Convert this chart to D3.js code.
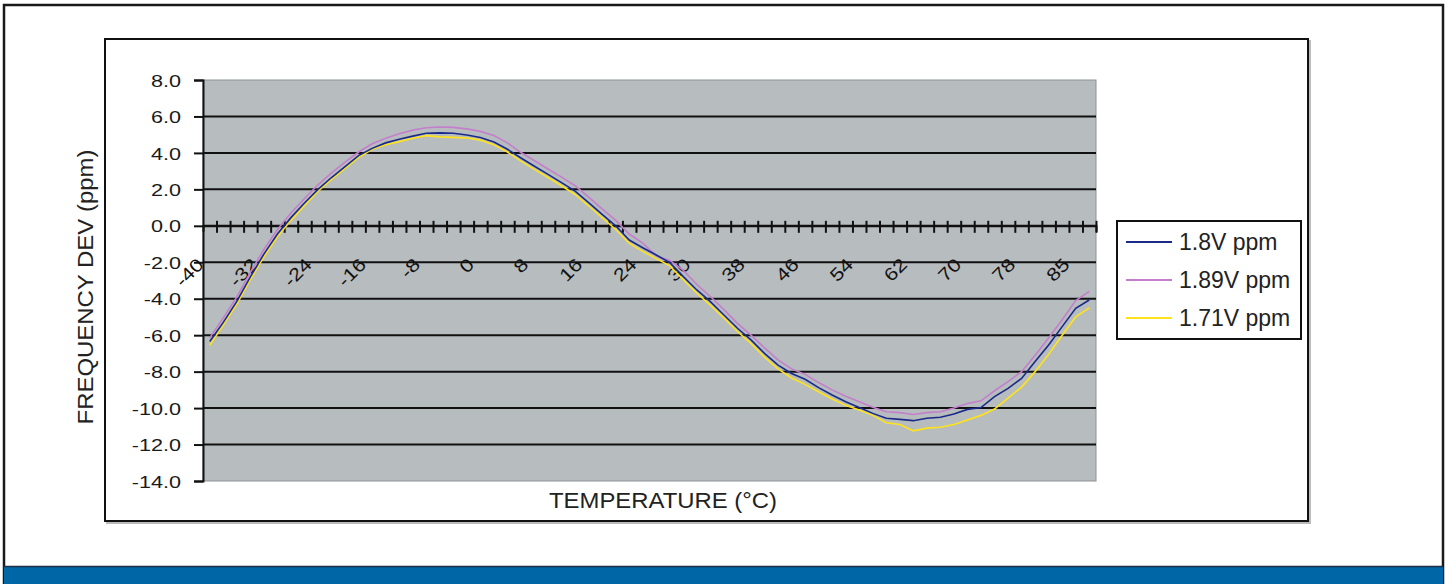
<!DOCTYPE html>
<html>
<head>
<meta charset="utf-8">
<script src="https://cdn.jsdelivr.net/npm/d3@7"></script>
<style>
  body { margin: 0; background: #fff; }
  svg { display: block; font-family: "Liberation Sans", Arial, sans-serif; }
</style>
</head>
<body>
<svg id="chart" width="1448" height="584"></svg>
<script>
// temperature categories (one per sample, labels shown on every 4th)
var temps = [-40,-38,-36,-34,-32,-30,-28,-26,-24,-22,-20,-18,-16,-14,-12,-10,-8,-6,-4,-2,
  0,2,4,6,8,10,12,14,16,18,20,22,24,26,27,28,30,32,34,36,38,40,42,44,46,48,50,52,54,56,
  58,60,62,64,66,68,70,72,74,76,78,80,82,84,85,86];

// frequency deviation (ppm) per supply voltage
var ppm180 = [-6.35,-5.3,-4.15,-2.8,-1.55,-0.45,0.45,1.25,2.0,2.65,3.25,3.85,4.25,4.55,4.75,4.92,5.08,5.1,5.08,4.98,
  4.85,4.6,4.2,3.72,3.27,2.82,2.37,1.9,1.27,0.63,0.0,-0.78,-1.2,-1.6,-2.02,-2.79,-3.52,-4.16,-4.89,-5.62,
  -6.26,-7.0,-7.64,-8.1,-8.42,-8.88,-9.28,-9.65,-9.97,-10.29,-10.56,-10.62,-10.69,-10.56,-10.5,-10.32,-10.07,-9.97,-9.37,-8.92,
  -8.37,-7.45,-6.54,-5.53,-4.53,-4.07];
var ppm189 = [-6.15,-5.05,-3.9,-2.55,-1.3,-0.2,0.7,1.5,2.25,2.9,3.5,4.05,4.5,4.8,5.05,5.25,5.38,5.42,5.4,5.32,
  5.18,4.95,4.55,4.02,3.57,3.12,2.67,2.2,1.57,0.93,0.3,-0.45,-0.95,-1.65,-1.9,-2.45,-3.22,-3.88,-4.6,-5.35,
  -6.0,-6.7,-7.35,-7.85,-8.15,-8.6,-9.0,-9.35,-9.65,-9.95,-10.2,-10.25,-10.35,-10.25,-10.2,-10.0,-9.75,-9.6,-9.05,-8.55,
  -8.0,-7.1,-6.15,-5.15,-4.1,-3.6];
var ppm171 = [-6.55,-5.45,-4.3,-2.95,-1.7,-0.6,0.3,1.1,1.9,2.55,3.15,3.75,4.2,4.45,4.62,4.8,4.95,4.88,4.85,4.82,
  4.7,4.45,4.05,3.55,3.1,2.65,2.2,1.72,1.1,0.45,-0.2,-0.95,-1.4,-1.8,-2.2,-2.95,-3.7,-4.35,-5.05,-5.8,
  -6.45,-7.2,-7.85,-8.35,-8.7,-9.1,-9.5,-9.85,-10.1,-10.4,-10.8,-10.9,-11.25,-11.1,-11.05,-10.9,-10.65,-10.4,-10.05,-9.45,
  -8.85,-8.0,-7.05,-6.0,-5.0,-4.5];

var seriesNames = ["1.8V ppm", "1.89V ppm", "1.71V ppm"];
var seriesColors = ["#1a2a88", "#c47fcc", "#ffe31a"];
var yTicks = [8,6,4,2,0,-2,-4,-6,-8,-10,-12,-14];

var svg = d3.select("#chart");

// outer page frame + blue footer band
svg.append("rect").attr("x",4).attr("y",5).attr("width",1439).attr("height",578)
  .attr("fill","#fff").attr("stroke","#1a1a1a").attr("stroke-width",2.5);
svg.append("rect").attr("x",4).attr("y",566).attr("width",1439).attr("height",18)
  .attr("fill","#0066a6");
svg.append("line").attr("x1",4).attr("x2",1443).attr("y1",566.5).attr("y2",566.5)
  .attr("stroke","#1d2f45").attr("stroke-width",1.5);

// chart area frame (with a faint shadow)
svg.append("rect").attr("x",107).attr("y",41).attr("width",1203).attr("height",482)
  .attr("fill","none").attr("stroke","#bbb").attr("stroke-width",2);
svg.append("rect").attr("x",105).attr("y",39).attr("width",1203).attr("height",482)
  .attr("fill","#fff").attr("stroke","#111").attr("stroke-width",2);

var plotL = 203, plotR = 1096, plotT = 80, plotB = 481;

var x = d3.scaleBand().domain(d3.range(temps.length)).range([plotL, plotR]).padding(0);
var xEdge = d3.scaleLinear().domain([0, temps.length]).range([plotL, plotR]);
var y = d3.scaleLinear().domain([-14, 8]).range([plotB, plotT]);

// plot background
svg.append("rect").attr("x",plotL).attr("y",plotT).attr("width",plotR-plotL).attr("height",plotB-plotT)
  .attr("fill","#b7bcbf").attr("stroke","#8e9396").attr("stroke-width",1);

// horizontal gridlines
svg.append("g").selectAll("line")
  .data(yTicks.filter(function(d) { return d < 8 && d > -14; }))
  .enter().append("line")
  .attr("x1",plotL).attr("x2",plotR)
  .attr("y1",function(d) { return y(d); }).attr("y2",function(d) { return y(d); })
  .attr("stroke","#111").attr("stroke-width",2);

// y axis
var yAxis = svg.append("g").attr("transform","translate(" + plotL + ",0)")
  .call(d3.axisLeft(y).tickValues(yTicks).tickSize(9).tickPadding(0)
    .tickFormat(function(d) { return d.toFixed(1); }));
yAxis.select(".domain").attr("stroke","#111").attr("stroke-width",2);
yAxis.selectAll(".tick line").attr("stroke","#111").attr("stroke-width",2);
yAxis.selectAll(".tick text")
  .attr("x",0).attr("dy","0.36em")
  .attr("transform","translate(-22,0) scale(1.27,1)")
  .attr("font-size",17).attr("fill","#1a1a1a").attr("font-family","Liberation Sans, Arial, sans-serif");

// x axis along zero with crossing tick marks at category edges
var xAxis = svg.append("g").attr("transform","translate(0," + y(0) + ")")
  .call(d3.axisBottom(xEdge).tickValues(d3.range(1, temps.length + 1)).tickSize(6).tickFormat(""));
xAxis.select(".domain").attr("stroke","#111").attr("stroke-width",2);
xAxis.selectAll(".tick line").attr("y1",-5).attr("y2",7).attr("stroke","#111").attr("stroke-width",2);

// rotated category labels, every 4th
var labelIdx = d3.range(0, temps.length, 4);
svg.append("g").selectAll("text")
  .data(labelIdx)
  .enter().append("text")
  .attr("transform", function(d) {
    var cx = x(d) + x.bandwidth() / 2 - 5;
    return "translate(" + cx + "," + (y(0) + 40) + ") rotate(-45) scale(1.2,1)";
  })
  .attr("text-anchor","end")
  .attr("font-size",18).attr("fill","#111")
  .text(function(d) { return temps[d]; });

// series lines
var series = [ppm180, ppm189, ppm171];
var line = d3.line()
  .x(function(d, i) { return x(i) + x.bandwidth() / 2; })
  .y(function(d) { return y(d); });
// draw yellow first, then pink, then blue on top
[2, 1, 0].forEach(function(k) {
  svg.append("path").datum(series[k])
    .attr("d", line)
    .attr("fill","none").attr("stroke",seriesColors[k]).attr("stroke-width",1.6);
});

// axis titles
svg.append("text")
  .attr("transform","translate(93,287) rotate(-90)")
  .attr("text-anchor","middle")
  .attr("font-size",22).attr("fill","#222")
  .attr("textLength",275).attr("lengthAdjust","spacingAndGlyphs")
  .text("FREQUENCY DEV (ppm)");
svg.append("text")
  .attr("x",663).attr("y",508)
  .attr("text-anchor","middle")
  .attr("font-size",22).attr("fill","#222")
  .attr("textLength",228).attr("lengthAdjust","spacingAndGlyphs")
  .text("TEMPERATURE (\u00B0C)");

// legend
var legend = svg.append("g");
legend.append("rect").attr("x",1117).attr("y",221).attr("width",184).attr("height",118)
  .attr("fill","#fff").attr("stroke","#111").attr("stroke-width",2);
var items = legend.selectAll(".item").data(seriesNames).enter().append("g")
  .attr("class","item")
  .attr("transform",function(d, i) { return "translate(1126," + (242 + i * 38) + ")"; });
items.append("line").attr("x1",0).attr("x2",46).attr("y1",0).attr("y2",0)
  .attr("stroke",function(d, i) { return seriesColors[i]; }).attr("stroke-width",2);
items.append("text").attr("x",53).attr("dy","0.36em")
  .attr("font-size",23).attr("fill","#222")
  .text(function(d) { return d; });
</script>
</body>
</html>
